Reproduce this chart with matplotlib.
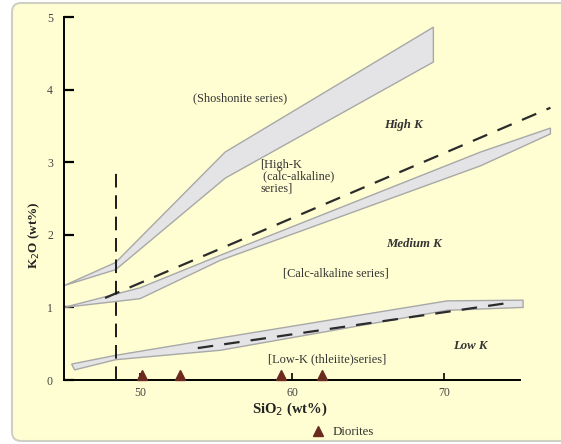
import matplotlib
matplotlib.use('Agg')
from matplotlib import pyplot as plt
from matplotlib.path import Path
from matplotlib.patches import PathPatch

plt.rcParams['font.family'] = ['Liberation Serif', 'DejaVu Serif']

# Shoshonite / high-K boundary band
shosh_x_up = [45, 48.4, 55.6, 69.3]
shosh_y_up = [1.30, 1.62, 3.14, 4.86]
shosh_x_lo = [45, 48.4, 55.6, 69.3]
shosh_y_lo = [1.30, 1.52, 2.78, 4.38]

# High-K / calc-alkaline boundary band
hk_x_up = [45, 50, 55.3, 72.4, 77]
hk_y_up = [1.00, 1.27, 1.72, 3.14, 3.47]
hk_x_lo = [45, 50, 55.3, 72.4, 77]
hk_y_lo = [1.00, 1.12, 1.65, 2.95, 3.39]

# calc-alkaline / low-K boundary band
low_x_up = [45.5, 48.4, 55.3, 70.2, 75.2]
low_y_up = [0.22, 0.34, 0.58, 1.09, 1.10]
low_x_lo = [45.7, 48.4, 55.3, 70.2, 75.2]
low_y_lo = [0.14, 0.28, 0.41, 0.96, 1.00]

# dashed dividers
hk_div_x = [47.7, 77]
hk_div_y = [1.13, 3.75]
lk_div_x = [53.8, 74.5]
lk_div_y = [0.44, 1.07]
basalt_x = [48.4, 48.4]
basalt_y = [0, 2.85]

# samples
dior_x = [50.1, 52.6, 59.3, 62.0]
dior_y = [0.07, 0.07, 0.07, 0.07]

xticks = [50, 60, 70]
yticks = [0, 1, 2, 3, 4, 5]

fig = plt.figure(figsize=(5.61, 4.44), dpi=100)
fig.patch.set_facecolor('white')

# panel background: rounded on the left, open past the right edge
bg = fig.add_axes([0, 0, 1, 1], zorder=-1)
bg.set_xlim(0, 561)
bg.set_ylim(444, 0)
bg.axis('off')
L, T, B, R, r = 12, 3, 441, 620, 9
C3 = Path.CURVE3
outline = [(R, T), (L + r, T), (L, T), (L, T + r), (L, B - r), (L, B),
           (L + r, B), (R, B)]
codes = [Path.MOVETO, Path.LINETO, C3, C3, Path.LINETO, C3, C3, Path.LINETO]
bg.add_patch(PathPatch(Path(outline + [(R, T)], codes + [Path.CLOSEPOLY]),
                       facecolor='#fffed2', edgecolor='none'))
bg.add_patch(PathPatch(Path(outline, codes), facecolor='none',
                       edgecolor='#cfcfc4', lw=1.5))

ax = fig.add_axes([0.1141, 0.1441, 0.8806, 0.8176])
ax.patch.set_visible(False)
ax.set_xlim(45, 77.5)
ax.set_ylim(0, 5)

band_face = '#e4e4e6'
band_edge = '#a8a8a8'
for xu, yu, xl, yl in [(shosh_x_up, shosh_y_up, shosh_x_lo, shosh_y_lo),
                       (hk_x_up, hk_y_up, hk_x_lo, hk_y_lo),
                       (low_x_up, low_y_up, low_x_lo, low_y_lo)]:
    ax.fill(xu + xl[::-1], yu + yl[::-1], facecolor=band_face,
            edgecolor=band_edge, lw=1, clip_on=False, zorder=2)

dash = (0, (7, 5))
ax.plot(hk_div_x, hk_div_y, c='#2b2b2b', lw=1.6, ls=dash, clip_on=False, zorder=3)
ax.plot(lk_div_x, lk_div_y, c='#2b2b2b', lw=1.6, ls=dash, clip_on=False, zorder=3)
ax.plot(basalt_x, basalt_y, c='#1a1a1a', lw=1.4, ls=(0, (7, 4)), zorder=3)

ax.plot(dior_x, dior_y, ls='none', marker='^', ms=7, c='#6b2a1e',
        label='Diorites', clip_on=False, zorder=4)

tc = '#333333'
ax.text(56.6, 3.88, '(Shoshonite series)', fontsize=8.8, color=tc,
        ha='center', va='center')
ax.text(67.3, 3.51, 'High K', fontsize=9.2, color=tc, weight='bold',
        style='italic', ha='center', va='center')
ax.text(57.9, 2.80, '[High-K\n (calc-alkaline)\nseries]', fontsize=8.8,
        color=tc, ha='left', va='center', linespacing=0.95)
ax.text(68.0, 1.87, 'Medium K', fontsize=9.2, color=tc, weight='bold',
        style='italic', ha='center', va='center')
ax.text(59.4, 1.47, '[Calc-alkaline series]', fontsize=8.9, color=tc,
        ha='left', va='center')
ax.text(71.7, 0.47, 'Low K', fontsize=9.2, color=tc, weight='bold',
        style='italic', ha='center', va='center')
ax.text(58.4, 0.29, '[Low-K (thleiite)series]', fontsize=8.9, color=tc,
        ha='left', va='center')

for s in ['top', 'right']:
    ax.spines[s].set_visible(False)
ax.spines['left'].set_bounds(0, 5)
ax.spines['bottom'].set_bounds(45, 75)
ax.spines['left'].set_linewidth(1.4)
ax.spines['bottom'].set_linewidth(1.4)

ax.set_xticks(xticks)
ax.set_yticks(yticks)
ax.tick_params(axis='y', direction='in', length=7, width=1.6, pad=8,
               labelsize=8.5, labelcolor='#444444')
ax.tick_params(axis='x', direction='in', length=5, width=1.2, pad=5,
               labelsize=8.5, labelcolor='#444444')

ax.set_xlabel('SiO$_2$ (wt%)', fontsize=10.5, weight='bold', color='#222222')
ax.xaxis.set_label_coords(0.457, -0.057)
ax.set_ylabel('K$_2$O (wt%)', fontsize=9.5, weight='bold', color='#222222')
ax.yaxis.set_label_coords(-0.045, 0.40)

ax.legend(loc='center', bbox_to_anchor=(0.611, 0.027),
          bbox_transform=fig.transFigure, frameon=False, fontsize=9.3,
          handlelength=1.0, handletextpad=0.7, labelcolor='#333333')

plt.savefig('out.png', dpi=100)
